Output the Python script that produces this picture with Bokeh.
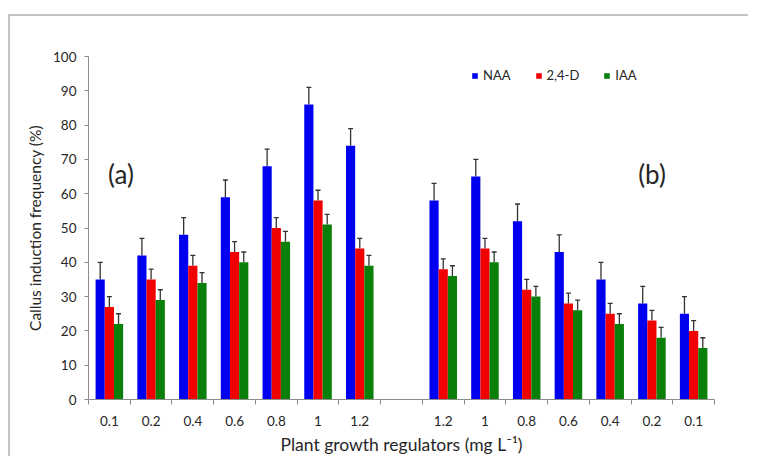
from bokeh.plotting import figure
from bokeh.models import (ColumnDataSource, Range1d, FixedTicker, Whisker, TeeHead,
                          Legend, LegendItem, Label)
from bokeh.embed import file_html
from bokeh.resources import INLINE

# ---- data ----
dose_a = ["0.1", "0.2", "0.4", "0.6", "0.8", "1", "1.2"]
dose_b = ["1.2", "1", "0.8", "0.6", "0.4", "0.2", "0.1"]

naa_a = [35, 42, 48, 59, 68, 86, 74]
d24_a = [27, 35, 39, 43, 50, 58, 44]
iaa_a = [22, 29, 34, 40, 46, 51, 39]

naa_b = [58, 65, 52, 43, 35, 28, 25]
d24_b = [38, 44, 32, 28, 25, 23, 20]
iaa_b = [36, 40, 30, 26, 22, 18, 15]

naa_err_a = [5, 5, 5, 5, 5, 5, 5]
d24_err_a = [3, 3, 3, 3, 3, 3, 3]
iaa_err_a = [3, 3, 3, 3, 3, 3, 3]
naa_err_b = [5, 5, 5, 5, 5, 5, 5]
d24_err_b = [3, 3, 3, 3, 3, 3, 3]
iaa_err_b = [3, 3, 3, 3, 3, 3, 3]

series_names = ["NAA", "2,4-D", "IAA"]
colors = ["#0000F0", "#F00000", "#0A7F0A"]

# slot layout: panel a, one empty slot, panel b
tick_labels = dose_a + [""] + dose_b
slots_a = list(range(len(dose_a)))
slots_b = [len(dose_a) + 1 + i for i in range(len(dose_b))]
n_slots = len(tick_labels)

FONT = "Lato"
TXT = "#262626"
AX = "#8c8c8c"

p = figure(width=740, height=442, x_range=Range1d(0, n_slots), y_range=Range1d(0, 100),
           output_backend="svg", toolbar_location=None,
           min_border_left=78, min_border_right=36, min_border_top=40, min_border_bottom=59)
p.margin = (14, 0, 0, 8)
p.styles = {"border-top": "2px solid #c4c4c4", "border-left": "2px solid #c4c4c4"}
p.outline_line_color = None
p.xgrid.grid_line_color = None
p.ygrid.grid_line_color = None
p.background_fill_color = "white"
p.border_fill_color = "white"

bar_w = 0.22
offsets = [-bar_w, 0.0, bar_w]
vals = [(naa_a + naa_b, naa_err_a + naa_err_b),
        (d24_a + d24_b, d24_err_a + d24_err_b),
        (iaa_a + iaa_b, iaa_err_a + iaa_err_b)]
slots = slots_a + slots_b

renderers = []
for (v, e), off, col, name in zip(vals, offsets, colors, series_names):
    xs = [s + 0.5 + off for s in slots]
    src = ColumnDataSource(dict(x=xs, top=v, upper=[a + b for a, b in zip(v, e)]))
    r = p.vbar(x="x", top="top", bottom=0, width=bar_w, source=src,
               fill_color=col, line_color=None)
    renderers.append(r)
    w = Whisker(base="x", upper="upper", lower="top", source=src,
                line_color="#333333", line_width=1.3,
                upper_head=TeeHead(size=5, line_color="#333333", line_width=1.3),
                lower_head=None)
    p.add_layout(w)

# x axis: labels at slot centres, ticks at slot boundaries
p.xaxis.ticker = FixedTicker(ticks=[i + 0.5 for i in range(n_slots)],
                             minor_ticks=list(range(n_slots + 1)))
p.xaxis.major_label_overrides = {i + 0.5: lab for i, lab in enumerate(tick_labels)}
p.xaxis.major_tick_out = 0
p.xaxis.major_tick_in = 0
p.xaxis.minor_tick_out = 5
p.xaxis.minor_tick_in = 0
p.xaxis.minor_tick_line_color = AX
p.xaxis.axis_line_color = AX
p.xaxis.major_label_standoff = 11
p.xaxis.axis_label = "Plant growth regulators (mg L\u207b\u00b9)"
p.xaxis.axis_label_standoff = 5
p.xaxis.axis_label_text_font_size = "17.5px"

p.yaxis.ticker = FixedTicker(ticks=list(range(0, 101, 10)))
p.yaxis.major_tick_out = 4
p.yaxis.major_tick_in = 0
p.yaxis.minor_tick_line_color = None
p.yaxis.axis_line_color = AX
p.yaxis.major_tick_line_color = AX
p.yaxis.major_label_standoff = 8
p.yaxis.axis_label = "Callus induction frequency (%)"
p.yaxis.axis_label_standoff = 6
p.yaxis.axis_label_text_font_size = "15.5px"

for ax in (p.xaxis, p.yaxis):
    ax.major_label_text_font = FONT
    ax.major_label_text_font_size = "13.5px"
    ax.major_label_text_color = TXT
    ax.axis_label_text_font = FONT
    ax.axis_label_text_font_style = "normal"
    ax.axis_label_text_color = TXT

# panel labels
p.add_layout(Label(x=0.47, y=65.8, text="(a)", text_font=FONT, text_font_size="26px",
                   text_color=TXT, text_baseline="middle"))
p.add_layout(Label(x=13.17, y=65.8, text="(b)", text_font=FONT, text_font_size="26px",
                   text_color=TXT, text_baseline="middle"))

legend = Legend(items=[LegendItem(label=n, renderers=[r]) for n, r in zip(series_names, renderers)],
                orientation="horizontal", location=(383, 316),
                glyph_width=7, glyph_height=7, label_standoff=5, spacing=24,
                padding=0, margin=0, border_line_color=None, background_fill_alpha=0,
                label_text_font=FONT, label_text_font_size="13px", label_text_color=TXT,
                label_height=12)
p.add_layout(legend)

open("out.html", "w").write(file_html(p, INLINE))
